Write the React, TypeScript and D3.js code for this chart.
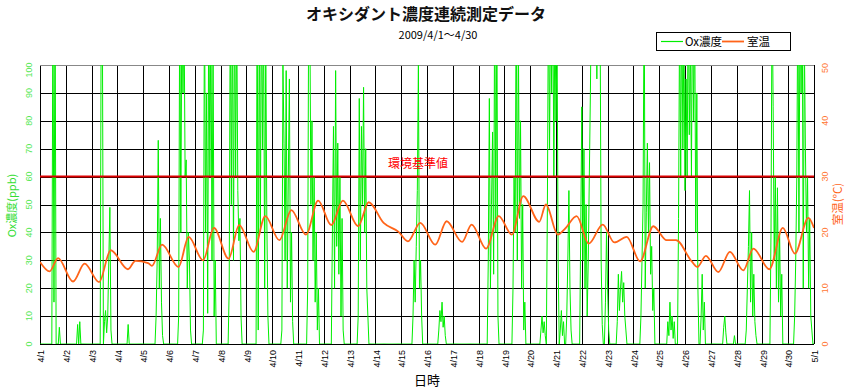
import * as d3 from 'd3';

// 日付ラベル (4/1 0:00 〜 5/1 0:00)
const dayLabels = [
  '4/1', '4/2', '4/3', '4/4', '4/5', '4/6', '4/7', '4/8', '4/9', '4/10',
  '4/11', '4/12', '4/13', '4/14', '4/15', '4/16', '4/17', '4/18', '4/19', '4/20',
  '4/21', '4/22', '4/23', '4/24', '4/25', '4/26', '4/27', '4/28', '4/29', '4/30', '5/1',
];

const oxTicks = [0, 10, 20, 30, 40, 50, 60, 70, 80, 90, 100];
const tempTicks = [0, 10, 20, 30, 40, 50];
const standardValue = 60;

// Ox濃度 (ppb) 1時間値, 1行 = 1日 (0時〜23時)
const oxHourly = [
  [0, 0, 0, 0, 0, 0, 0, 0, 0, 0, 0, 0, 125, 15, 130, 0, 0, 0, 6, 0, 0, 0, 0, 0],
  [0, 0, 0, 0, 0, 0, 0, 0, 0, 0, 0, 7, 0, 8, 0, 0, 0, 0, 0, 0, 0, 0, 0, 0],
  [0, 0, 0, 0, 0, 0, 0, 0, 0, 130, 120, 0, 8, 12, 4, 10, 30, 49, 5, 0, 0, 0, 0, 0],
  [0, 0, 0, 0, 0, 0, 0, 0, 0, 0, 7, 0, 0, 0, 0, 0, 0, 0, 0, 0, 0, 0, 0, 0],
  [0, 0, 0, 0, 0, 0, 0, 0, 0, 0, 0, 0, 10, 30, 73, 20, 45, 15, 3, 0, 0, 0, 0, 0],
  [0, 0, 0, 0, 0, 0, 0, 0, 0, 10, 130, 40, 125, 90, 120, 60, 66, 20, 40, 30, 5, 0, 0, 0],
  [0, 0, 0, 0, 0, 0, 0, 0, 5, 130, 40, 90, 11, 130, 60, 120, 30, 110, 10, 30, 0, 0, 0, 0],
  [0, 0, 0, 0, 0, 0, 0, 0, 20, 130, 50, 125, 30, 130, 60, 120, 55, 37, 45, 10, 0, 0, 0, 0],
  [0, 0, 0, 0, 0, 0, 0, 0, 0, 0, 130, 5, 125, 40, 130, 70, 120, 20, 110, 45, 10, 0, 0, 0],
  [0, 0, 0, 0, 0, 0, 0, 0, 0, 5, 100, 72, 30, 98, 20, 60, 95, 15, 40, 8, 0, 0, 0, 0],
  [0, 0, 0, 0, 0, 0, 0, 0, 0, 20, 130, 120, 50, 80, 30, 60, 15, 40, 5, 20, 0, 0, 0, 0],
  [0, 0, 0, 0, 0, 0, 0, 0, 40, 78, 20, 98, 35, 72, 25, 60, 10, 45, 5, 0, 0, 0, 0, 0],
  [0, 0, 0, 0, 0, 0, 0, 0, 10, 88, 30, 78, 50, 92, 40, 70, 20, 10, 0, 0, 0, 0, 0, 0],
  [0, 0, 0, 0, 0, 0, 0, 0, 0, 0, 0, 0, 0, 0, 0, 0, 0, 0, 0, 0, 0, 0, 0, 0],
  [0, 0, 0, 0, 0, 0, 0, 0, 0, 0, 0, 10, 30, 15, 35, 55, 100, 20, 30, 10, 0, 0, 0, 0],
  [0, 0, 0, 0, 0, 0, 0, 0, 0, 0, 0, 5, 12, 8, 15, 6, 10, 3, 0, 0, 0, 0, 0, 0],
  [0, 0, 0, 0, 0, 0, 0, 0, 0, 0, 0, 0, 0, 0, 0, 0, 0, 0, 0, 0, 0, 0, 0, 0],
  [0, 0, 0, 0, 0, 0, 0, 0, 0, 30, 88, 20, 50, 76, 25, 130, 40, 120, 10, 0, 0, 0, 0, 0],
  [0, 0, 0, 0, 0, 0, 0, 0, 20, 60, 40, 130, 30, 110, 45, 80, 20, 50, 5, 15, 0, 0, 0, 0],
  [0, 0, 0, 0, 0, 0, 0, 0, 0, 0, 5, 10, 4, 8, 3, 0, 50, 130, 70, 125, 90, 130, 60, 120],
  [80, 110, 30, 0, 5, 12, 3, 8, 0, 0, 10, 30, 55, 20, 5, 0, 0, 0, 0, 0, 0, 0, 0, 40],
  [85, 30, 70, 20, 50, 10, 30, 60, 90, 130, 100, 130, 110, 130, 95, 130, 105, 120, 30, 7, 0, 0, 15, 40],
  [20, 5, 0, 0, 0, 0, 0, 0, 0, 8, 25, 12, 20, 26, 15, 22, 10, 5, 0, 0, 0, 0, 0, 0],
  [0, 0, 0, 0, 0, 0, 0, 10, 30, 50, 130, 20, 47, 72, 40, 65, 25, 35, 12, 20, 0, 0, 0, 0],
  [0, 0, 0, 0, 0, 0, 0, 0, 8, 3, 15, 5, 10, 2, 8, 0, 0, 0, 45, 120, 60, 130, 70, 110],
  [55, 95, 60, 130, 75, 110, 60, 130, 80, 120, 40, 90, 20, 0, 0, 10, 25, 5, 15, 0, 0, 0, 0, 0],
  [0, 0, 0, 0, 0, 0, 0, 0, 0, 0, 0, 0, 6, 10, 4, 0, 0, 0, 0, 0, 0, 0, 3, 0],
  [0, 0, 0, 0, 0, 0, 0, 0, 0, 5, 20, 35, 55, 15, 40, 10, 25, 8, 3, 0, 0, 0, 0, 0],
  [0, 0, 0, 0, 0, 0, 0, 0, 40, 130, 85, 30, 60, 20, 56, 15, 40, 10, 25, 0, 0, 0, 0, 0],
  [0, 0, 0, 0, 0, 0, 10, 30, 60, 130, 40, 125, 90, 130, 20, 110, 70, 40, 60, 20, 45, 10, 5, 0],
];
const oxLast = 0; // 5/1 0時

// 室温 (°C): 経過日数 (4/1 0時 = 0) と温度
const tempDays = [
  0, 0.37, 0.7, 1.28, 1.73, 2.29, 2.74, 3.41, 3.7, 4.19, 4.34, 4.73, 5.37, 5.76, 6.32, 6.74,
  7.31, 7.72, 8.28, 8.73, 9.28, 9.74, 10.31, 10.78, 11.29, 11.74, 12.33, 12.74, 13.32, 13.9,
  14.26, 14.74, 15.32, 15.76, 16.36, 16.73, 17.29, 17.78, 18.29, 18.73, 19.35, 19.61, 20.07,
  20.36, 20.8, 21.27, 21.81, 22.26, 22.74, 23.26, 23.77, 24.29, 24.65, 25.26, 25.48, 25.81,
  26.29, 26.74, 27.26, 27.65, 28.27, 28.79, 29.26, 29.78, 30,
];
const tempValues = [
  14.7, 13.0, 15.4, 11.2, 14.4, 11.1, 16.8, 13.4, 14.9, 14.5, 14.0, 17.8, 13.8, 19.2, 15.0, 20.8,
  15.3, 21.3, 16.5, 22.9, 18.6, 24.0, 19.6, 25.7, 21.3, 25.7, 21.1, 25.4, 21.7, 20.1,
  18.4, 21.7, 17.8, 22.0, 18.3, 21.4, 17.1, 22.9, 19.6, 26.5, 21.9, 25.0, 19.6,
  20.7, 22.9, 18.0, 21.4, 18.2, 19.2, 14.8, 21.1, 18.6, 18.6, 14.8, 13.8, 15.8,
  12.9, 16.5, 13.2, 17.1, 13.4, 20.8, 16.2, 22.6, 20.8,
];

const W = 848;
const H = 391;
const plot = { left: 40, right: 814, top: 65, bottom: 344 };
const jpFont = '"Noto Sans CJK JP", "Noto Sans", sans-serif';
const green = '#00ee00';
const orange = '#ff6419';

// 1px線をピクセルに合わせる
const snap = (v: number) => Math.round(v) + 0.5;

export default function App() {
  const x = d3.scaleLinear().domain([0, 30]).range([plot.left, plot.right]);
  const yOx = d3.scaleLinear().domain([0, 100]).range([plot.bottom, plot.top]);
  const yTemp = d3.scaleLinear().domain([0, 50]).range([plot.bottom, plot.top]);

  const oxPoints: [number, number][] = oxHourly.flatMap((day, di) =>
    day.map((v, h) => [di + h / 24, v] as [number, number])
  );
  oxPoints.push([30, oxLast]);

  const oxLine = d3.line<[number, number]>()
    .x(d => x(d[0]))
    .y(d => yOx(d[1]));

  const tempLine = d3.line<number>()
    .x((_, i) => x(tempDays[i]))
    .y(d => yTemp(d))
    .curve(d3.curveMonotoneX);

  return (
    <div style={{ position: 'fixed', left: 0, top: 0 }}>
      <svg width={W} height={H} style={{ display: 'block', background: '#fff' }}>
        <defs>
          <clipPath id="plotClip">
            <rect x={plot.left} y={plot.top} width={plot.right - plot.left} height={plot.bottom - plot.top} />
          </clipPath>
        </defs>

        {/* タイトル */}
        <text x={426} y={20} textAnchor="middle" fontFamily={jpFont} fontSize={16} fontWeight="bold" fill="#111">
          オキシダント濃度連続測定データ
        </text>
        <text x={438} y={39} textAnchor="middle" fontFamily={jpFont} fontSize={11} fill="#000">
          2009/4/1～4/30
        </text>

        {/* 凡例 */}
        <rect x={656.5} y={32.5} width={134} height={18} fill="#fff" stroke="#000" strokeWidth={1} />
        <line x1={661} x2={683} y1={41.5} y2={41.5} stroke={green} strokeWidth={1.2} />
        <text x={685} y={45.5} fontFamily={jpFont} fontSize={11.5} fill="#000">Ox濃度</text>
        <line x1={722} x2={744} y1={41.5} y2={41.5} stroke={orange} strokeWidth={1.8} />
        <text x={747} y={45.5} fontFamily={jpFont} fontSize={11.5} fill="#000">室温</text>

        {/* グリッド */}
        <g>
          {dayLabels.map((_, i) => (
            <line key={'v' + i} x1={snap(x(i))} x2={snap(x(i))} y1={plot.top} y2={plot.bottom} stroke="#000" strokeWidth={1} />
          ))}
          {oxTicks.map(t => (
            <line key={'h' + t} x1={plot.left} x2={plot.right} y1={snap(yOx(t))} y2={snap(yOx(t))}
              stroke={t === 100 ? '#888' : '#000'} strokeWidth={1} />
          ))}
        </g>

        {/* Ox濃度 */}
        <path d={oxLine(oxPoints) ?? ''} fill="none" stroke={green} strokeWidth={1} clipPath="url(#plotClip)" />

        {/* 室温 */}
        <path d={tempLine(tempValues) ?? ''} fill="none" stroke={orange} strokeWidth={1.8} clipPath="url(#plotClip)" />

        {/* 環境基準値 */}
        <line x1={plot.left} x2={plot.right} y1={yOx(standardValue)} y2={yOx(standardValue)} stroke="#dd0000" strokeWidth={2} />
        <text x={388} y={168} fontFamily={jpFont} fontSize={12} fill="#ff0000">環境基準値</text>

        {/* 左軸 */}
        {oxTicks.map(t => (
          <text key={'ol' + t} transform={`translate(28.5,${yOx(t) + (t === 100 ? 5 : 0)}) rotate(-90)`}
            textAnchor="middle" dy="0.35em" fontFamily="Arial, sans-serif" fontSize={9} fill="#55e855">
            {t}
          </text>
        ))}
        <text transform={`translate(12.5,${(plot.top + plot.bottom) / 2 + 1}) rotate(-90)`} textAnchor="middle"
          dy="0.35em" fontFamily={jpFont} fontSize={11} fill="#33dd33">
          Ox濃度(ppb)
        </text>

        {/* 右軸 */}
        {tempTicks.map(t => (
          <text key={'tl' + t} transform={`translate(825,${yTemp(t) + (t === 50 ? 3 : 0)}) rotate(-90)`}
            textAnchor="middle" dy="0.35em" fontFamily="Arial, sans-serif" fontSize={9} fill="#ff7733">
            {t}
          </text>
        ))}
        <text transform={`translate(838,204) rotate(-90)`} textAnchor="middle" dy="0.35em"
          fontFamily={jpFont} fontSize={11.5} fill={orange}>
          室温(°C)
        </text>

        {/* 横軸 */}
        {dayLabels.map((lab, i) => (
          <text key={'xl' + i} transform={`translate(${x(i) + 1},350) rotate(-90)`} textAnchor="end"
            dy="0.35em" fontFamily="Arial, sans-serif" fontSize={9} fill="#000">
            {lab}
          </text>
        ))}
        <text x={427} y={385} textAnchor="middle" fontFamily={jpFont} fontSize={13} fill="#000">日時</text>
      </svg>
    </div>
  );
}
